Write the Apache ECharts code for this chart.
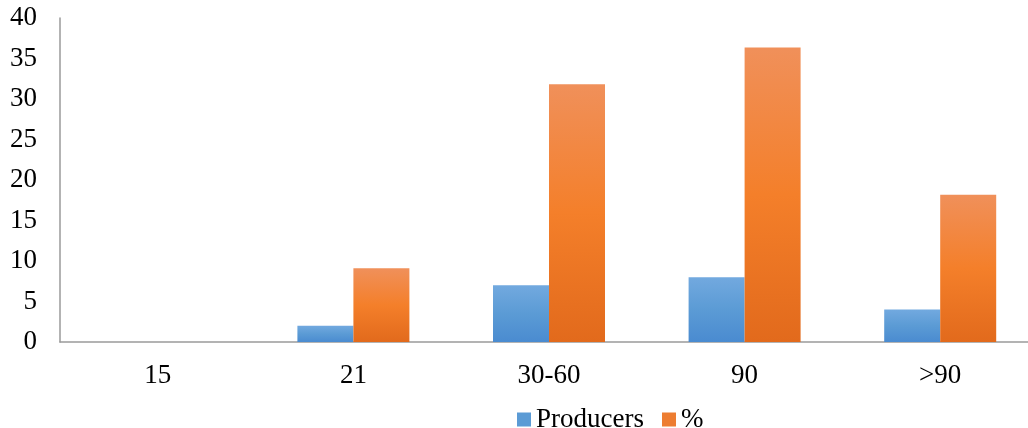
<!DOCTYPE html>
<html><head><meta charset="utf-8">
<script src="https://cdn.jsdelivr.net/npm/echarts@6/dist/echarts.min.js"></script>
<style>html,body{margin:0;padding:0;background:#fff}#c{width:1028px;height:428px}</style>
</head><body><div id="c"></div>
<script>
const categories = ['15', '21', '30-60', '90', '>90'];
const producers = [0, 2, 7, 8, 4];
const percent = [0, 9.09, 31.82, 36.36, 18.18];
const yTicks = [0, 5, 10, 15, 20, 25, 30, 35, 40];

const font = 'Liberation Serif, Times New Roman, serif';
function grad(top, mid, bot) {
  return new echarts.graphic.LinearGradient(0, 0, 0, 1, [
    {offset: 0, color: top}, {offset: 0.5, color: mid}, {offset: 1, color: bot}
  ]);
}
const chart = echarts.init(document.getElementById('c'));
chart.setOption({
  animation: false,
  grid: {left: 60, width: 978, top: 18, height: 324, containLabel: false, outerBoundsMode: 'none'},
  legend: {
    top: 401, left: 512, icon: 'rect', itemWidth: 14, itemHeight: 14, itemGap: 18,
    textStyle: {fontFamily: font, fontSize: 27, color: '#000'},
    data: [{name: 'Producers', itemStyle: {color: '#5b9bd5'}}, {name: '%', itemStyle: {color: '#ed7d31'}}]
  },
  xAxis: {
    type: 'category', data: categories,
    axisLine: {lineStyle: {color: '#9a9a9a', width: 1.5}},
    axisTick: {show: false},
    axisLabel: {fontFamily: font, fontSize: 27, color: '#000', margin: 20}
  },
  yAxis: {
    type: 'value', min: 0, max: 40, interval: 5,
    axisLine: {show: true, lineStyle: {color: '#9a9a9a', width: 1.5}},
    axisTick: {show: false},
    splitLine: {show: false},
    axisLabel: {fontFamily: font, fontSize: 27, color: '#000', margin: 23,
      formatter: v => yTicks.includes(v) ? String(v) : ''}
  },
  series: [
    {name: 'Producers', type: 'bar', data: producers, barWidth: 56, barGap: '0%',
     itemStyle: {color: grad('#72a9df', '#5b9bd5', '#4a8bd0')}},
    {name: '%', type: 'bar', data: percent, barWidth: 56,
     itemStyle: {color: grad('#f0905a', '#f47f2a', '#e26a1c')}}
  ]
});
</script></body></html>
